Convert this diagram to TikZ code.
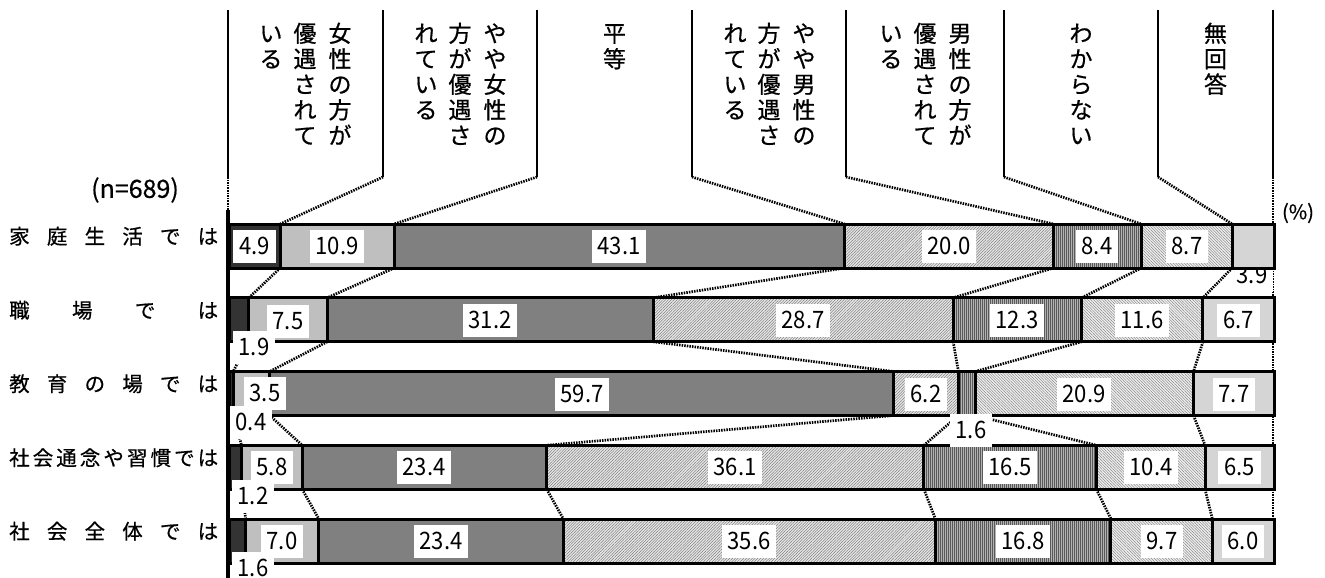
\documentclass[tikz,border=0pt]{standalone}
\usepackage{fontspec}
\setmainfont{Noto Sans CJK JP}
\newfontfamily\jfont[FakeBold=0.6]{Noto Sans CJK JP}
\newfontfamily\nfont[FakeStretch=0.92]{Noto Sans CJK JP}
\usetikzlibrary{patterns.meta}
\tikzset{
  hline/.style={line width=2.8pt},
  conn/.style={line width=2.7pt, dash pattern=on 1.5pt off 1.1pt},
  barline/.style={line width=3pt},
  axisline/.style={line width=3.4pt},
  hchar/.style={font=\jfont\fontsize{23}{23}\selectfont, anchor=base, inner sep=0pt},
  rowlab/.style={font=\jfont\fontsize{20.5}{20.5}\selectfont, anchor=base west, inner sep=0pt},
  val/.style={font=\nfont\fontsize{24}{24}\selectfont, fill=white, inner xsep=6pt, inner ysep=8.5pt, text height=16pt, text depth=0pt},
  s1/.style={fill=black!80},
  s2/.style={fill=black!25},
  s3/.style={fill=black!50},
  s4/.style={fill=black!10, postaction={pattern={Lines[angle=45,distance=2pt,line width=0.35pt]}, pattern color=black!60}},
  s5/.style={fill=black!30, postaction={pattern={Lines[angle=90,distance=2pt,line width=0.4pt]}, pattern color=black!65}},
  s6/.style={fill=black!7, postaction={pattern={Lines[angle=-45,distance=2pt,line width=0.35pt]}, pattern color=black!55}},
  s7/.style={fill=black!13, postaction={pattern={Dots[distance=2pt,radius=0.4pt]}, pattern color=black!55}},
}
\newcommand\vcol[3]{%
  \foreach \ch [count=\n] in {#3} {\node[hchar] (#1-\n) at (#2, {42+25.5*(\n-1)}) {\ch};}}
\def\cumA{4.9,15.8,58.9,78.9,87.3,96.0,100}
\def\cumB{1.9,9.4,40.6,69.3,81.6,93.2,100}
\def\cumC{0.4,3.9,63.6,69.8,71.4,92.3,100}
\def\cumD{1.2,7.0,30.4,66.5,83.0,93.4,100}
\def\cumE{1.6,8.6,32.0,67.6,84.4,94.1,100}
\begin{document}
\begin{tikzpicture}[x=1pt,y=-1pt]
\useasboundingbox (0,0) rectangle (1325,578);
% header frame
\foreach \i/\hx in {0/228,1/383,2/537,3/692,4/846,5/1004,6/1158,7/1273}{
  \coordinate (ht\i) at (\hx,10);
  \coordinate (hb\i) at (\hx,177);
}
\coordinate (ax0) at (228,210);
\coordinate (ax1) at (228,578);
\coordinate (rend) at (1273,519);
\draw[conn] (hb7) -- (rend);
\draw[conn] (hb0) -- (ax0);
\foreach \i in {0,...,7} \draw[hline] (ht\i) -- (hb\i);
\draw[axisline] (ax0) -- (ax1);
% label lying under row 1
\node[val] (v-1-7) at (1252,275) {3.9};
% bars
\foreach \r/\cums in {1/\cumA,2/\cumB,3/\cumC,4/\cumD,5/\cumE}{
  \pgfmathsetmacro\rowT{224+73.75*(\r-1)}
  \pgfmathsetmacro\rowB{\rowT+44}
  \edef\cl{\cums}
  \coordinate (t-\r-0) at (229,\rowT);
  \coordinate (b-\r-0) at (229,\rowB);
  \foreach \c [count=\k, remember=\c as \p (initially 0)] in \cl {
    \path[s\k] (229+10.45*\p,\rowT) rectangle (229+10.45*\c,\rowB);
    \coordinate (t-\r-\k) at (229+10.45*\c,\rowT);
    \coordinate (b-\r-\k) at (229+10.45*\c,\rowB);
  }
  \draw[barline] (t-\r-0) rectangle (b-\r-7);
  \foreach \k in {1,...,6} \draw[barline] (t-\r-\k) -- (b-\r-\k);
}
% connectors
\foreach \k in {1,...,6} \draw[conn] (hb\k) -- (t-1-\k);
\foreach \r/\s in {1/2,2/3,3/4,4/5}
  \foreach \k in {1,...,6} \draw[conn] (b-\r-\k) -- (t-\s-\k);
% values
\node[val] (v-1-1) at (254.6,246) {4.9};
\node[val] (v-1-2) at (337,246) {10.9};
\node[val] (v-1-3) at (619,246) {43.1};
\node[val] (v-1-4) at (949,246) {20.0};
\node[val] (v-1-5) at (1097,246) {8.4};
\node[val] (v-1-6) at (1187,246) {8.7};
\node[val] (v-2-2) at (288,321) {7.5};
\node[val] (v-2-3) at (490,320) {31.2};
\node[val] (v-2-4) at (803,320) {28.7};
\node[val] (v-2-5) at (1017,320) {12.3};
\node[val] (v-2-6) at (1142,320) {11.6};
\node[val] (v-2-7) at (1238.5,320) {6.7};
\node[val] (v-2-1) at (254,347) {1.9};
\node[val] (v-3-2) at (265,393) {3.5};
\node[val] (v-3-3) at (582,394) {59.7};
\node[val] (v-3-4) at (926,394) {6.2};
\node[val] (v-3-6) at (1084,394) {20.9};
\node[val] (v-3-7) at (1234,394) {7.7};
\node[val] (v-3-1) at (251,422) {0.4};
\node[val] (v-3-5) at (971,430) {1.6};
\node[val] (v-4-2) at (272,467.5) {5.8};
\node[val] (v-4-3) at (424,467.5) {23.4};
\node[val] (v-4-4) at (735,467.5) {36.1};
\node[val] (v-4-5) at (1010,467.5) {16.5};
\node[val] (v-4-6) at (1151,467.5) {10.4};
\node[val] (v-4-7) at (1239.5,467.5) {6.5};
\node[val] (v-4-1) at (253,496) {1.2};
\node[val] (v-5-2) at (282,541) {7.0};
\node[val] (v-5-3) at (441,541) {23.4};
\node[val] (v-5-4) at (749,541) {35.6};
\node[val] (v-5-5) at (1023,541) {16.8};
\node[val] (v-5-6) at (1162,541) {9.7};
\node[val] (v-5-7) at (1243,541) {6.0};
\node[val] (v-5-1) at (253,568) {1.6};
% header texts
\vcol{c1a}{340}{女,性,の,方,が}
\vcol{c1b}{305}{優,遇,さ,れ,て}
\vcol{c1c}{271}{い,る}
\vcol{c2a}{495}{や,や,女,性,の}
\vcol{c2b}{460}{方,が,優,遇,さ}
\vcol{c2c}{426}{れ,て,い,る}
\vcol{c3}{614.5}{平,等}
\vcol{c4a}{804}{や,や,男,性,の}
\vcol{c4b}{769}{方,が,優,遇,さ}
\vcol{c4c}{735}{れ,て,い,る}
\vcol{c5a}{960}{男,性,の,方,が}
\vcol{c5b}{925}{優,遇,さ,れ,て}
\vcol{c5c}{891}{い,る}
\vcol{c6}{1081}{わ,か,ら,な,い}
\vcol{c7}{1215.5}{無,回,答}
% row labels
\node[rowlab] (r1) at (9,244) {\makebox[209pt]{家\hfill 庭\hfill 生\hfill 活\hfill で\hfill は}};
\node[rowlab] (r2) at (9,318) {\makebox[209pt]{職\hfill 場\hfill で\hfill は}};
\node[rowlab] (r3) at (9,391.5) {\makebox[209pt]{教\hfill 育\hfill の\hfill 場\hfill で\hfill は}};
\node[rowlab] (r4) at (9,465.5) {\makebox[209pt]{社\hfill 会\hfill 通\hfill 念\hfill や\hfill 習\hfill 慣\hfill で\hfill は}};
\node[rowlab] (r5) at (9,539) {\makebox[209pt]{社\hfill 会\hfill 全\hfill 体\hfill で\hfill は}};
\node[font=\jfont\fontsize{25}{25}\selectfont, inner sep=0pt] (n) at (135,190) {(n=689)};
\node[font=\jfont\fontsize{20}{20}\selectfont, inner sep=0pt] (pct) at (1298,213) {(\%)};
\end{tikzpicture}
\end{document}
